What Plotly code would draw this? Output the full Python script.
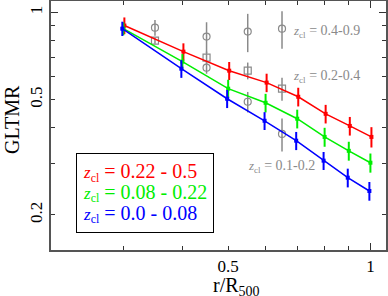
import plotly.graph_objects as go

# ---------------- data ----------------
r = [0.3, 0.4, 0.5, 0.6, 0.7, 0.8, 0.9, 1.0]

red_y = [0.902, 0.733, 0.630, 0.573, 0.512, 0.447, 0.406, 0.372]
red_err = [0.060, 0.050, 0.045, 0.042, 0.038, 0.033, 0.030, 0.030]
green_y = [0.880, 0.677, 0.546, 0.488, 0.430, 0.372, 0.333, 0.303]
green_err = [0.045, 0.042, 0.040, 0.036, 0.032, 0.028, 0.025, 0.023]
blue_y = [0.880, 0.640, 0.504, 0.423, 0.361, 0.308, 0.269, 0.242]
blue_err = [0.050, 0.045, 0.036, 0.030, 0.026, 0.022, 0.020, 0.018]

# comparison samples (grey)
hi_r = [0.35, 0.45, 0.55, 0.65]
hi_y = [0.887, 0.826, 0.860, 0.880]
hi_err = [0.055, 0.100, 0.130, 0.130]
mid_r = [0.35, 0.45, 0.55, 0.65]
mid_y = [0.800, 0.699, 0.630, 0.546]
mid_err = [0.020, 0.034, 0.042, 0.050]
lo_r = [0.45, 0.55, 0.65]
lo_y = [0.645, 0.492, 0.381]
lo_err = [0.030, 0.040, 0.050]

x_ticks = [0.3, 0.4, 0.5, 0.6, 0.7, 0.8, 0.9, 1.0]
x_ticktext = ["", "", "0.5", "", "", "", "", "1"]
y_ticks = [0.2, 0.3, 0.4, 0.5, 0.6, 0.7, 0.8, 0.9, 1.0]
y_ticktext = ["0.2", "", "", "0.5", "", "", "", "", "1"]

series_labels = ["0.22 - 0.5", "0.08 - 0.22", "0.0 - 0.08"]
grey_labels = ["0.4-0.9", "0.2-0.4", "0.1-0.2"]

# ---------------- style ----------------
SERIF = "Liberation Serif"
GREY = "#8a8a8a"
RED, GREEN, BLUE = "#ff0000", "#00ee00", "#0000ff"

fig = go.Figure()

for xs, ys, es, sym in [(hi_r, hi_y, hi_err, "circle-open"),
                        (mid_r, mid_y, mid_err, "square-open"),
                        (lo_r, lo_y, lo_err, "circle-open")]:
    fig.add_trace(go.Scatter(
        x=xs, y=ys, mode="markers",
        marker=dict(symbol=sym, size=7, color=GREY, line=dict(width=1.2, color=GREY)),
        error_y=dict(type="data", array=es, color=GREY, thickness=1.5, width=0),
        showlegend=False, hoverinfo="skip"))

for ys, es, col, f in [(red_y, red_err, RED, 1.005),
                       (green_y, green_err, GREEN, 1.0),
                       (blue_y, blue_err, BLUE, 0.995)]:
    fig.add_trace(go.Scatter(
        x=[v * f for v in r], y=ys, mode="lines+markers",
        line=dict(color=col, width=1.5),
        marker=dict(symbol="square", size=4, color=col),
        error_y=dict(type="data", array=es, color=col, thickness=2, width=0),
        showlegend=False))

# invisible trace to carry the long-tick overlay axes
fig.add_trace(go.Scatter(x=r, y=red_y, xaxis="x2", yaxis="y2", mode="markers",
                         marker=dict(opacity=0), showlegend=False, hoverinfo="skip"))

XR = [-0.676, 0.033]
YR = [-0.82, 0.04]
axis_common = dict(showgrid=False, zeroline=False, ticks="inside",
                   tickcolor="#333", tickwidth=1, automargin=False)

fig.update_layout(
    width=388, height=296,
    margin=dict(l=51, r=2, t=1, b=46),
    paper_bgcolor="white", plot_bgcolor="white",
    font=dict(family=SERIF, color="black"),
    xaxis=dict(type="log", range=XR, tickvals=x_ticks, ticktext=x_ticktext,
               ticklen=4, showline=True, linecolor="#555", linewidth=1.5,
               mirror="allticks", tickfont=dict(size=17, family=SERIF, color="black"),
               **axis_common),
    yaxis=dict(type="log", range=YR, tickvals=y_ticks, ticktext=y_ticktext,
               ticklen=4, showline=True, linecolor="#555", linewidth=1.5,
               mirror="allticks", tickangle=-90,
               tickfont=dict(size=17, family=SERIF, color="black"),
               **axis_common),
    xaxis2=dict(type="log", range=XR, overlaying="x", tickvals=[1.0], ticklen=7,
                showticklabels=False, showline=False, mirror="ticks", side="bottom",
                anchor="y2", **axis_common),
    yaxis2=dict(type="log", range=YR, overlaying="y", tickvals=[1.0], ticklen=7,
                showticklabels=False, showline=False, mirror="ticks", side="left",
                anchor="x2", **axis_common),
)

def zlab(rest, zsize, size):
    return (f"<span style='font-size:{zsize}px'><i>z</i><sub>cl</sub></span>"
            f"<span style='font-size:{size}px'> = {rest}</span>")

legend_text = "<br>".join(
    f"<span style='color:{c}'>{zlab(t, 17, 20)}</span>"
    for c, t in zip([RED, GREEN, BLUE], series_labels))

annotations = [
    dict(text=legend_text, xref="paper", yref="paper", x=0.0746, y=0.39,
         xanchor="left", yanchor="top", align="left", showarrow=False,
         font=dict(size=16, family=SERIF), bgcolor="white",
         bordercolor="black", borderwidth=1, borderpad=6),
    dict(text=zlab(grey_labels[0], 13, 14), xref="paper", yref="paper",
         x=0.928, y=0.877, xanchor="right", yanchor="middle", showarrow=False,
         font=dict(size=14, family=SERIF, color=GREY)),
    dict(text=zlab(grey_labels[1], 13, 14), xref="paper", yref="paper",
         x=0.928, y=0.696, xanchor="right", yanchor="middle", showarrow=False,
         font=dict(size=14, family=SERIF, color=GREY)),
    dict(text=zlab(grey_labels[2], 13, 14), xref="paper", yref="paper",
         x=0.794, y=0.334, xanchor="right", yanchor="middle", showarrow=False,
         font=dict(size=14, family=SERIF, color=GREY)),
    dict(text="r/R<sub>500</sub>", xref="paper", yref="paper", x=0.555, y=-0.145,
         xanchor="center", yanchor="middle", showarrow=False,
         font=dict(size=20, family=SERIF, color="black")),
    dict(text="GLTMR", xref="paper", yref="paper", x=-0.116, y=0.523,
         xanchor="center", yanchor="middle", textangle=-90, showarrow=False,
         font=dict(size=20, family=SERIF, color="black")),
]
fig.update_layout(annotations=annotations)

fig.write_html("out.html", config={"displayModeBar": False},
               post_script="document.body.style.margin='0';document.body.style.padding='0';")
